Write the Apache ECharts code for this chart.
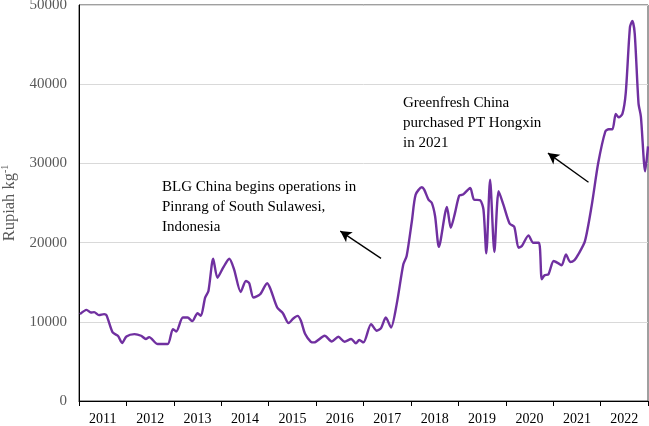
<!DOCTYPE html>
<html>
<head>
<meta charset="utf-8">
<script src="https://cdn.jsdelivr.net/npm/echarts@6/dist/echarts.min.js"></script>
<style>
html,body{margin:0;padding:0;background:#fff;}
#c{width:649px;height:426px;}
</style>
</head>
<body>
<div id="c"></div>
<script>
// fractional-year positions of readings
var times = [2011.02,2011.16,2011.25,2011.32,2011.42,2011.53,2011.58,2011.71,2011.82,2011.91,
  2012.00,2012.17,2012.31,2012.41,2012.48,2012.66,2012.87,2012.98,2013.05,2013.19,
  2013.29,2013.39,2013.50,2013.57,2013.66,2013.73,2013.83,2013.92,2014.04,2014.17,
  2014.27,2014.41,2014.52,2014.59,2014.68,2014.82,2014.97,2015.04,2015.18,2015.30,
  2015.42,2015.52,2015.61,2015.68,2015.77,2015.89,2015.96,2016.18,2016.33,2016.47,
  2016.60,2016.74,2016.84,2016.91,2017.00,2017.16,2017.28,2017.37,2017.47,2017.58,
  2017.70,2017.84,2017.91,2018.02,2018.10,2018.23,2018.28,2018.37,2018.44,2018.51,
  2018.59,2018.76,2018.84,2018.93,2019.02,2019.10,2019.25,2019.33,2019.46,2019.53,
  2019.59,2019.67,2019.76,2019.85,2019.95,2020.08,2020.18,2020.27,2020.34,2020.48,
  2020.58,2020.70,2020.76,2020.82,2020.90,2021.01,2021.11,2021.18,2021.27,2021.36,
  2021.45,2021.53,2021.67,2021.81,2021.95,2022.10,2022.17,2022.25,2022.32,2022.38,
  2022.46,2022.53,2022.62,2022.67,2022.72,2022.80,2022.85,2022.94,2023.00];
// price, Rupiah per kg
var prices = [10970,11510,11170,11220,10840,10970,10840,8660,8240,7320,
  8150,8450,8240,7820,8070,7190,7190,9080,8780,10540,
  10540,10080,11090,10750,13060,13900,17960,15570,16830,17960,
  16630,13770,15160,14870,13060,13480,14870,14110,11800,11090,
  9840,10420,10750,10130,8450,7480,7400,8240,7520,8110,
  7480,7820,7270,7700,7400,9710,8870,9210,10540,9280,
  12230,17260,18300,22700,26060,26980,26690,25430,25010,23330,
  19470,24500,21860,23750,25940,26060,26890,25430,25350,24180,
  18640,27950,18810,26480,24800,22420,21990,19350,19560,20910,
  19980,19980,15370,15870,16000,17670,17380,17130,18510,17550,
  17800,18510,20190,24590,30040,34030,34310,34310,36250,35820,
  36250,38840,47230,47990,46390,37580,35910,28990,32140];
var years = ['2011','2012','2013','2014','2015','2016','2017','2018','2019','2020','2021','2022'];
var yTicks = [0,10000,20000,30000,40000,50000];
var note1 = 'BLG China begins operations in\nPinrang of South Sulawesi,\nIndonesia';
var note2 = 'Greenfresh China\npurchased PT Hongxin\nin 2021';
// arrow endpoints in data units [year, price]
var arrow1 = [[2017.37,18010],[2016.51,21450]];
var arrow2 = [[2021.745,27610],[2020.89,31300]];

var series = times.map(function(t,i){return [t, prices[i]];});
var serif = 'Liberation Serif, Times New Roman, serif';
var chart = echarts.init(document.getElementById('c'));
chart.setOption({
  animation:false,
  grid:{left:79,right:1,top:5,bottom:25,containLabel:false,outerBoundsMode:'none',show:true,borderColor:'#404040',borderWidth:1,backgroundColor:'transparent'},
  xAxis:[{
    type:'value',min:2011,max:2023,interval:1,
    axisLine:{show:true,lineStyle:{color:'#000',width:1}},
    axisTick:{show:true,length:5,lineStyle:{color:'#000'}},
    axisLabel:{show:false},
    splitLine:{show:false}
  },{
    type:'category',data:years,boundaryGap:true,position:'bottom',
    axisLine:{show:false},axisTick:{show:false},
    axisLabel:{fontFamily:serif,fontSize:14,color:'#000',margin:11},
    splitLine:{show:false}
  }],
  yAxis:{
    type:'value',min:yTicks[0],max:yTicks[yTicks.length-1],interval:10000,
    name:'{a|Rupiah kg}{s|-1}',
    nameLocation:'middle',nameGap:55,nameRotate:90,
    nameTextStyle:{rich:{a:{fontFamily:serif,fontSize:16.5,color:'#595959'},s:{fontFamily:serif,fontSize:10,color:'#595959',verticalAlign:'top',padding:[0,0,9,0]}}},
    axisLine:{show:true,lineStyle:{color:'#000'}},
    axisTick:{show:false},
    axisLabel:{fontFamily:serif,fontSize:15,color:'#595959',margin:12,formatter:function(v){return String(v);}},
    splitLine:{show:true,lineStyle:{color:'#d9d9d9',width:1}}
  },
  series:[{
    type:'line',xAxisIndex:0,data:series,smooth:0.25,showSymbol:false,
    lineStyle:{color:'#7030A0',width:2.4},
    markLine:{
      silent:true,symbol:['none','arrow'],symbolSize:[9,11],
      lineStyle:{color:'#000',width:1.3,type:'solid'},
      label:{show:false},
      data:[
        [{coord:arrow1[0]},{coord:arrow1[1]}],
        [{coord:arrow2[0]},{coord:arrow2[1]}]
      ]
    }
  }],
  graphic:[
    {type:'text',left:162,top:177,style:{text:note1,fontFamily:serif,fontSize:15,lineHeight:20,fill:'#000'}},
    {type:'text',left:403,top:93,style:{text:note2,fontFamily:serif,fontSize:15,lineHeight:20,fill:'#000'}}
  ]
});
</script>
</body>
</html>
